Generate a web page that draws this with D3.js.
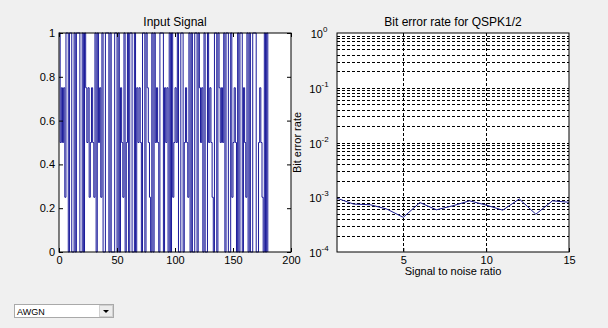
<!DOCTYPE html>
<html>
<head>
<meta charset="utf-8">
<script src="https://cdn.jsdelivr.net/npm/d3@7"></script>
<style>
  body { margin: 0; background: #f0f0f0; }
  svg { display: block; font-family: "Liberation Sans", Arial, sans-serif; }
  text { fill: #000; }
</style>
</head>
<body>
<svg id="chart" width="608" height="328"></svg>
<script>
// input signal samples, index 0..180
const signal = [
  1,0.5,0.75,0.5,0.75,0.25,1,1,0,1,1,0,0,1,0,1,1,1,0,0,
  1,0,1,0.75,0.5,0.75,0.25,0.5,0.75,0.5,0.25,1,0,1,0.5,0.75,0.25,1,0,0,
  1,1,1,0,1,0,0,0,1,1,0,1,0,0.75,0.5,0.25,1,0,0.5,1,
  0,1,1,0,0,1,0,0.75,0.5,0.75,0.5,0,1,1,0,1,0.75,0.5,0.25,0,
  1,0,1,0.5,0.75,0.5,0,1,1,1,0,0.75,0.5,0.75,0,1,0,1,0.25,0.5,
  0.75,0.5,1,0,0,1,1,0,0.5,0.75,0.5,0.25,1,0,1,0,0,1,1,0,
  1,0.75,0.5,0.75,0,1,0,0,1,0.5,0.75,0.5,0.25,0,1,1,0,1,0.75,0.5,
  0.75,0.5,1,0,1,1,0,0,1,0.25,0.5,0.75,0.5,0,1,0,1,1,0,0.75,
  0.5,0.25,1,0,1,0,0,1,1,1,0,0,0.5,0.75,0.5,0.25,0,1,0,1,0
];
const leftXTicks = [0, 50, 100, 150, 200];
const leftYTicks = [0, 0.2, 0.4, 0.6, 0.8, 1];

// bit error rate vs SNR
const snr = [1,2,3,4,5,6,7,8,9,10,11,12,13,14,15];
const ber = [9.6e-4,7.5e-4,7.3e-4,6.1e-4,4.3e-4,8.0e-4,5.9e-4,7.0e-4,8.6e-4,7.2e-4,5.8e-4,9.3e-4,4.9e-4,8.6e-4,8.1e-4];
const rightXTicks = [5, 10, 15];
const rightYExps = [0, -1, -2, -3, -4];

const svg = d3.select("#chart");
const yTop = 33, yBot = 252;

// ---------- left panel ----------
const L = { x0: 59, x1: 291 };
const xL = d3.scaleLinear().domain([0, 200]).range([L.x0, L.x1]);
const yL = d3.scaleLinear().domain([0, 1]).range([yBot, yTop]);

svg.append("rect")
  .attr("x", L.x0).attr("y", yTop)
  .attr("width", L.x1 - L.x0).attr("height", yBot - yTop)
  .attr("fill", "#fff");

svg.append("path")
  .datum(signal)
  .attr("fill", "none")
  .attr("stroke", "#1a1a9a")
  .attr("stroke-width", 1)
  .attr("d", d3.line().curve(d3.curveStepAfter).x((d, i) => xL(i)).y(d => yL(d)));

function tickAxes(g, axisFn, scale, ticks, fmt) {
  g.call(axisFn(scale).tickValues(ticks).tickSize(-4).tickPadding(4).tickFormat(fmt));
  g.select(".domain").remove();
  g.selectAll("text").attr("font-size", 11).attr("font-family", "Liberation Sans, Arial, sans-serif");
}

tickAxes(svg.append("g").attr("transform", `translate(0,${yBot})`), d3.axisBottom, xL, leftXTicks, d3.format("d"));
tickAxes(svg.append("g").attr("transform", `translate(0,${yTop})`), d3.axisTop, xL, leftXTicks, () => "");
tickAxes(svg.append("g").attr("transform", `translate(${L.x0},0)`), d3.axisLeft, yL, leftYTicks, d => d === 0 || d === 1 ? d : d.toFixed(1));
tickAxes(svg.append("g").attr("transform", `translate(${L.x1},0)`), d3.axisRight, yL, leftYTicks, () => "");

svg.append("rect")
  .attr("x", L.x0).attr("y", yTop)
  .attr("width", L.x1 - L.x0).attr("height", yBot - yTop)
  .attr("fill", "none").attr("stroke", "#000");

svg.append("text")
  .attr("x", (L.x0 + L.x1) / 2).attr("y", 26)
  .attr("text-anchor", "middle").attr("font-size", 12)
  .text("Input Signal");

// ---------- right panel ----------
const R = { x0: 337, x1: 569 };
const xR = d3.scaleLinear().domain([1, 15]).range([R.x0, R.x1]);
const yR = d3.scaleLog().domain([1e-4, 1]).range([yBot, yTop]);

svg.append("rect")
  .attr("x", R.x0).attr("y", yTop)
  .attr("width", R.x1 - R.x0).attr("height", yBot - yTop)
  .attr("fill", "#fff");

// grid lines (major + minor, log)
const gridY = [];
for (let e = -4; e < 0; e++) for (let m = 1; m <= 9; m++) gridY.push(m * Math.pow(10, e));
svg.append("g").selectAll("line")
  .data(gridY.filter(v => v > 1e-4))
  .join("line")
  .attr("x1", R.x0).attr("x2", R.x1)
  .attr("y1", d => Math.round(yR(d)) + 0.5).attr("y2", d => Math.round(yR(d)) + 0.5)
  .attr("stroke", "#000").attr("stroke-dasharray", "3,2");

svg.append("g").selectAll("line")
  .data(rightXTicks.filter(v => v < 15))
  .join("line")
  .attr("y1", yTop).attr("y2", yBot)
  .attr("x1", d => Math.round(xR(d)) + 0.5).attr("x2", d => Math.round(xR(d)) + 0.5)
  .attr("stroke", "#000").attr("stroke-dasharray", "3,2");

svg.append("path")
  .datum(d3.zip(snr, ber))
  .attr("fill", "none")
  .attr("stroke", "#1a1a90")
  .attr("stroke-width", 1)
  .attr("d", d3.line().x(d => xR(d[0])).y(d => yR(d[1])));

tickAxes(svg.append("g").attr("transform", `translate(0,${yBot})`), d3.axisBottom, xR, rightXTicks, d3.format("d"));

const yLab = svg.append("g").selectAll("text")
  .data(rightYExps)
  .join("text")
  .attr("x", R.x0 - 18).attr("y", d => yR(Math.pow(10, d)) + 5)
  .attr("text-anchor", "middle").attr("font-size", 11);
yLab.append("tspan").text("10");
yLab.append("tspan").attr("dy", -6).attr("font-size", 8).text(d => d);

svg.append("rect")
  .attr("x", R.x0).attr("y", yTop)
  .attr("width", R.x1 - R.x0).attr("height", yBot - yTop)
  .attr("fill", "none").attr("stroke", "#000");

svg.append("text")
  .attr("x", (R.x0 + R.x1) / 2).attr("y", 26)
  .attr("text-anchor", "middle").attr("font-size", 12)
  .text("Bit error rate for QSPK1/2");

svg.append("text")
  .attr("x", (R.x0 + R.x1) / 2).attr("y", 275)
  .attr("text-anchor", "middle").attr("font-size", 11)
  .text("Signal to noise ratio");

svg.append("text")
  .attr("transform", `translate(301,${(yTop + yBot) / 2}) rotate(-90)`)
  .attr("text-anchor", "middle").attr("font-size", 11)
  .text("Bit error rate");

// ---------- dropdown ----------
const dd = svg.append("g").attr("transform", "translate(14,304)");
dd.append("rect").attr("x", 0.5).attr("y", 0.5).attr("width", 99).attr("height", 13)
  .attr("fill", "#fff").attr("stroke", "#a9a9a9");
dd.append("rect").attr("x", 85.5).attr("y", 1.5).attr("width", 13).attr("height", 11)
  .attr("fill", "#ececec").attr("stroke", "#d0d0d0");
dd.append("path").attr("d", "M89,6 L95,6 L92,9 Z").attr("fill", "#000");
dd.append("text").attr("x", 3).attr("y", 10.5).attr("font-size", 9).text("AWGN");
</script>
</body>
</html>
